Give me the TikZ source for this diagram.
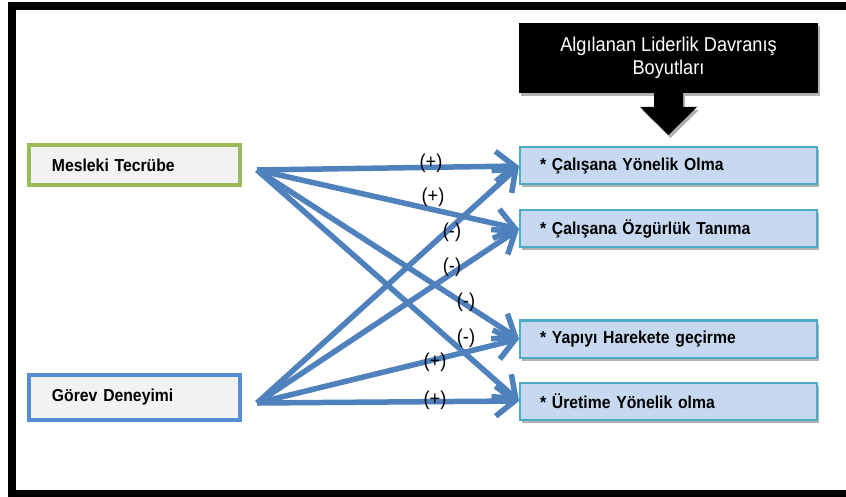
\documentclass[tikz,border=0pt]{standalone}
\usepackage{fontspec}
\setmainfont{Liberation Sans}
\newfontfamily\narrowfont[FakeStretch=0.91]{Liberation Sans}
\usetikzlibrary{arrows.meta,shadows}

\definecolor{linkblue}{RGB}{79,129,189}
\definecolor{dimfill}{RGB}{198,217,241}
\definecolor{dimedge}{RGB}{75,172,198}
\definecolor{srcfill}{RGB}{242,242,242}
\definecolor{srcgreen}{RGB}{155,187,89}
\definecolor{srcblue}{RGB}{85,142,213}

\begin{document}
\begin{tikzpicture}[x=1bp,y=-1bp,
  softshadow/.style={drop shadow={shadow xshift=2bp, shadow yshift=-3bp, fill=black, opacity=.3}},
  srcbox/.style={draw, line width=4bp, fill=srcfill, minimum width=211bp,
    text width=165bp, inner xsep=23bp, align=left,
    font=\narrowfont\fontsize{17.3bp}{20bp}\selectfont\bfseries},
  dimbox/.style={draw=dimedge, line width=2bp, fill=dimfill, softshadow,
    minimum width=297bp, minimum height=37bp, text width=257bp, inner xsep=20bp,
    align=left, font=\narrowfont\fontsize{17.3bp}{20bp}\selectfont\bfseries},
  titlebox/.style={fill=black, text=white, softshadow, minimum width=299bp,
    minimum height=70bp, align=center,
    font=\narrowfont\fontsize{20bp}{22.5bp}\selectfont},
  link/.style={draw=linkblue, line width=5.5bp,
    -{Straight Barb[length=19bp,width=30bp]},
    preaction={draw=black, opacity=.18, transform canvas={shift={(1.5bp,-2bp)}}}},
  sign/.style={inner sep=0pt, font=\narrowfont\fontsize{20bp}{22bp}\selectfont}
]
% page and frame
\fill[white] (0,0) rectangle (846,497);
\useasboundingbox (0,0) rectangle (846,497);
\draw[line width=8bp] (852,6) -- (12,6) -- (12,493.5) -- (852,493.5);

% heading with its down arrow
\node[titlebox] (title) at (668.5,58) {Algılanan Liderlik Davranış\\Boyutları};
\fill[black, softshadow] (654,93) -- (683,93) -- (683,107) -- (697,107)
  -- (668.5,135) -- (640,107) -- (654,107) -- cycle;

% independent variables
\node[srcbox, draw=srcgreen, minimum height=40bp] (mt) at (134.5,165) {Mesleki Tecrübe};
\node[srcbox, draw=srcblue, minimum height=45bp] (gd) at (134.5,397.5) {Görev Deneyimi};
\coordinate (mt-out) at (257,170);
\coordinate (gd-out) at (257,403);

% leadership behaviour dimensions
\node[dimbox] (d1) at (668.5,166) {* Çalışana Yönelik Olma};
\node[dimbox] (d2) at (668.5,229) {* Çalışana Özgürlük Tanıma};
\node[dimbox] (d3) at (668.5,339) {* Yapıyı Harekete geçirme};
\node[dimbox] (d4) at (668.5,401) {* Üretime Yönelik olma};

% relations
\draw[link] (mt-out) -- (d1.west);
\draw[link] (mt-out) -- (d2.west);
\draw[link] (mt-out) -- (d3.west);
\draw[link] (mt-out) -- (d4.west);
\draw[link] (gd-out) -- (d1.west);
\draw[link] (gd-out) -- (d2.west);
\draw[link] (gd-out) -- (d3.west);
\draw[link] (gd-out) -- (d4.west);

% signs of the relations
\node[sign] (s1) at (431,163) {(+)};
\node[sign] (s2) at (433,197) {(+)};
\node[sign] (s3) at (452,232) {(-)};
\node[sign] (s4) at (452,267) {(-)};
\node[sign] (s5) at (466,302) {(-)};
\node[sign] (s6) at (466,338) {(-)};
\node[sign] (s7) at (435,362) {(+)};
\node[sign] (s8) at (435,400) {(+)};
\end{tikzpicture}
\end{document}
